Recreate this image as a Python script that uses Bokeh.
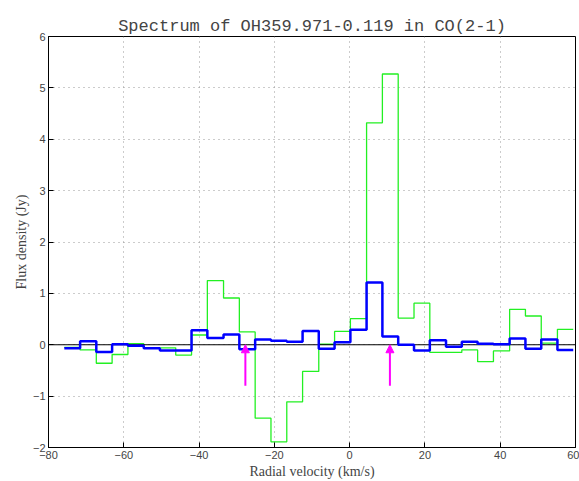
from bokeh.plotting import figure
from bokeh.models import Range1d, FixedTicker, Arrow, NormalHead, CustomJSTickFormatter
from bokeh.embed import file_html
from bokeh.resources import INLINE

# channel edges (km/s)
edges = [-75.8, -71.6, -67.3, -63.1, -58.9, -54.7, -50.4, -46.2, -42.0, -37.8,
         -33.5, -29.3, -25.1, -20.9, -16.7, -12.5, -8.2, -4.0, 0.2, 4.5,
         8.7, 12.9, 17.1, 21.3, 25.6, 29.8, 34.0, 38.2, 42.5, 46.7,
         50.9, 55.2, 59.4]
green_flux = [-0.05, -0.10, -0.36, -0.19, 0.02, -0.06, -0.06, -0.20, 0.19, 1.25,
              0.91, 0.25, -1.43, -1.89, -1.11, -0.52, 0.01, 0.26, 0.51, 4.32,
              5.27, 0.52, 0.81, -0.15, -0.15, -0.10, -0.33, -0.12, 0.69, 0.56,
              0.03, 0.30]
blue_flux = [-0.07, 0.07, -0.14, 0.01, -0.02, -0.07, -0.11, -0.11, 0.28, 0.13,
             0.20, -0.09, 0.10, 0.08, 0.06, 0.27, -0.08, 0.05, 0.29, 1.21,
             0.16, 0.00, -0.11, 0.09, -0.04, 0.06, 0.02, 0.01, 0.12, -0.08,
             0.10, -0.10]
arrow_v = [-27.7, 10.7]
arrow_y0 = -0.8
arrow_y1 = 0.0
x_ticks = [-80, -60, -40, -20, 0, 20, 40, 60]
y_ticks = [-2, -1, 0, 1, 2, 3, 4, 5, 6]

p = figure(width=579, height=481, output_backend="svg", toolbar_location=None,
           x_range=Range1d(-80, 60), y_range=Range1d(-2, 6),
           min_border_left=48, min_border_right=4, min_border_top=36, min_border_bottom=32)

p.title.text = "Spectrum of OH359.971-0.119 in CO(2-1)"
p.title.text_font = "Liberation Mono"
p.title.text_font_style = "normal"
p.title.text_font_size = "17px"
p.title.align = "center"
p.title.offset = 0
p.title.standoff = 2

minus_fmt = CustomJSTickFormatter(code="return tick < 0 ? '\u2212' + Math.abs(tick) : String(tick);")

for ax, ticks in ((p.xaxis[0], x_ticks), (p.yaxis[0], y_ticks)):
    ax.ticker = FixedTicker(ticks=ticks)
    ax.formatter = minus_fmt
    ax.major_tick_in = 5
    ax.major_tick_out = 0
    ax.minor_tick_in = 0
    ax.minor_tick_out = 0
    ax.major_label_text_font = "Liberation Sans"
    ax.major_label_text_font_size = "11px"
    ax.major_label_standoff = 3
    ax.axis_label_text_font = "Liberation Serif"
    ax.axis_label_text_font_style = "normal"
    ax.axis_label_text_font_size = "14px"
    ax.axis_line_color = "black"

p.xaxis[0].axis_label = "Radial velocity (km/s)"
p.xaxis[0].axis_label_standoff = 2
p.yaxis[0].axis_label = "Flux density (Jy)"
p.yaxis[0].axis_label_standoff = 1

p.outline_line_color = "black"
p.outline_line_width = 1

p.xgrid.ticker = FixedTicker(ticks=x_ticks)
p.ygrid.ticker = FixedTicker(ticks=y_ticks)
for g in (p.xgrid[0], p.ygrid[0]):
    g.grid_line_color = "#999999"
    g.grid_line_dash = "1 4"
    g.grid_line_width = 1

p.step(x=edges, y=green_flux + [green_flux[-1]], mode="after",
       line_color="#22f022", line_width=1.3)
p.segment(x0=[-80], y0=[0], x1=[60], y1=[0], line_color="black", line_width=1.2)
p.step(x=edges, y=blue_flux + [blue_flux[-1]], mode="after",
       line_color="#0000ff", line_width=2.5)

for v in arrow_v:
    p.add_layout(Arrow(end=NormalHead(size=8, fill_color="magenta", line_color="magenta"),
                       x_start=v, y_start=arrow_y0, x_end=v, y_end=arrow_y1,
                       line_color="magenta", line_width=2))

open("out.html", "w").write(file_html(p, INLINE))
